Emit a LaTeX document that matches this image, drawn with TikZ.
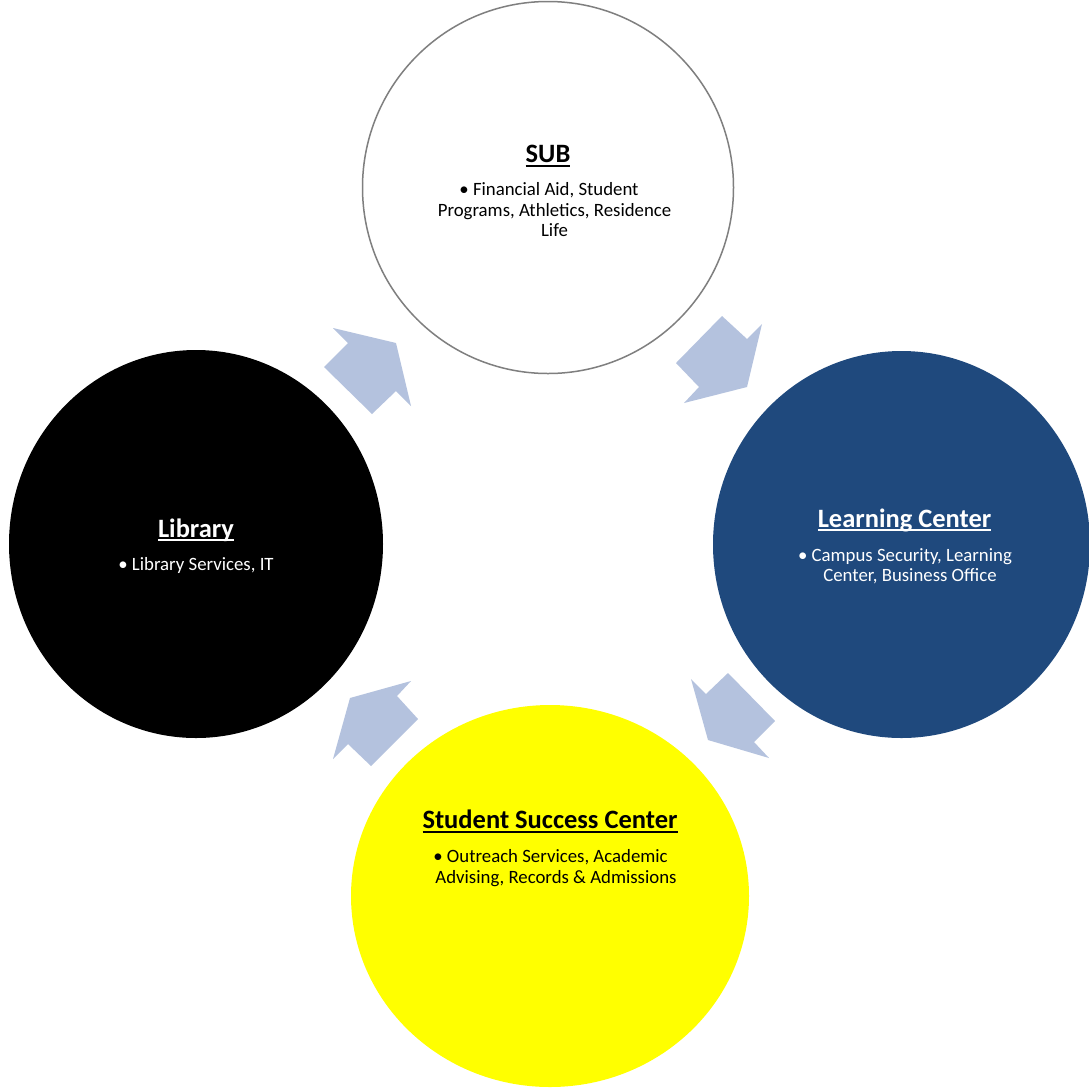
\documentclass[tikz,border=0pt]{standalone}
\usepackage{fontspec}
\setmainfont{Carlito}
\usetikzlibrary{shapes.geometric}
\definecolor{arrblue}{RGB}{180,194,222}
\definecolor{lcblue}{RGB}{31,73,125}
\definecolor{subgray}{RGB}{127,127,127}
\definecolor{sscyellow}{RGB}{255,255,0}
\newcommand\myul[1]{\setbox0\hbox{#1}\leavevmode\rlap{\rule[-4pt]{\wd0}{1.8pt}}\box0}
\begin{document}
\begin{tikzpicture}[x=1pt,y=-1pt,
  circ/.style={ellipse, inner sep=0pt, outer sep=0pt},
  arr/.style={fill=arrblue, draw=none},
  ttl/.style={anchor=base, inner sep=0pt, font=\fontsize{26.5}{30}\selectfont\bfseries},
  itm/.style={anchor=base, inner sep=0pt, font=\fontsize{18.8}{20}\selectfont}]
\useasboundingbox (0,0) rectangle (1089,1088);
\clip (0,0) rectangle (1089,1088);
\fill[white] (0,0) rectangle (1089,1088);

% circles
\node[circ, fill=white, draw=subgray, line width=1.5pt, minimum width=371pt, minimum height=372pt] (sub) at (548,187.5) {};
\node[circ, fill=black, minimum width=374pt, minimum height=388pt] (lib) at (196,544) {};
\node[circ, fill=lcblue, minimum width=377pt, minimum height=387pt] (lc) at (901.5,544.5) {};
\node[circ, fill=sscyellow, minimum width=398pt, minimum height=382pt] (ssc) at (550,896) {};

% arrows
\fill[arr] (333,328) -- (396,343) -- (411,406) -- (396,391) -- (372,414) -- (324,367) -- (348,343) -- cycle;
\fill[arr] (762,324) -- (747,387) -- (684,403) -- (699,387) -- (676,363) -- (722,316) -- (747,339) -- cycle;
\fill[arr] (769,758) -- (708,740) -- (691,679) -- (706,694) -- (728,673) -- (775,721) -- (754,742) -- cycle;
\fill[arr] (333,759) -- (350,698) -- (411,681) -- (397,696) -- (418,719) -- (371,766) -- (348,744) -- cycle;

% SUB text
\node[ttl, text=black] (subt) at (548,162.5) {\myul{SUB}};
\node[itm, text=black] (sub1) at (549,195.5) {• Financial Aid, Student};
\node[itm, text=black] (sub2) at (554.5,216) {Programs, Athletics, Residence};
\node[itm, text=black] (sub3) at (554.5,236.5) {Life};

% Library text
\node[ttl, text=white] (libt) at (196,537) {\myul{Library}};
\node[itm, text=white] (lib1) at (196,570) {• Library Services, IT};

% Learning Center text
\node[ttl, text=white] (lct) at (904.5,527) {\myul{Learning Center}};
\node[itm, text=white] (lc1) at (905,561) {• Campus Security, Learning};
\node[itm, text=white] (lc2) at (910,581) {Center, Business Office};

% Student Success Center text
\node[ttl, text=black] (ssct) at (550,828.5) {\myul{Student Success Center}};
\node[itm, text=black] (ssc1) at (550.5,862.5) {• Outreach Services, Academic};
\node[itm, text=black] (ssc2) at (556,883) {Advising, Records \& Admissions};
\end{tikzpicture}
\end{document}
